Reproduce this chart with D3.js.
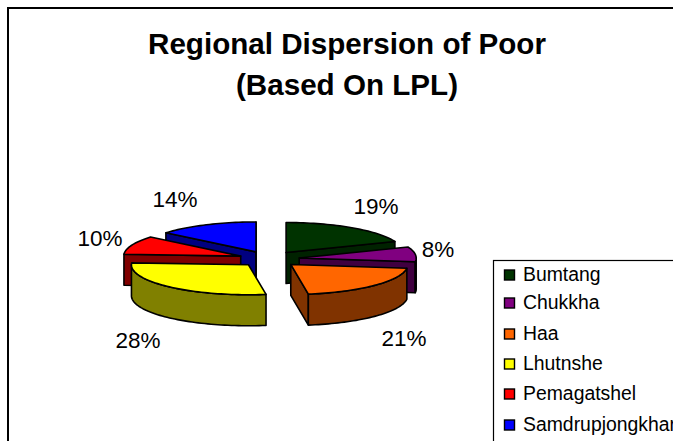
<!DOCTYPE html>
<html><head><meta charset="utf-8">
<script src="https://cdn.jsdelivr.net/npm/d3@7"></script>
<style>html,body{margin:0;padding:0;background:#fff;overflow:hidden}svg{display:block}text{font-family:"Liberation Sans",Arial,sans-serif;fill:#000}</style>
</head><body><script>
const categories = ["Bumtang","Chukkha","Haa","Lhutnshe","Pemagatshel","Samdrupjongkhar"];
const values = [19.0, 8.0, 20.6, 28.4, 10.0, 14.0];
const topColors = ["#003300","#800080","#FF6600","#FFFF00","#FF0000","#0000FF"];
const wallColors = ["#002200","#400040","#803300","#808000","#800000","#000080"];
const titleLines = ["Regional Dispersion of Poor","(Based On LPL)"];
const labelAnchors = [[376,206],[438,249],[404,338],[138,340],[100,238],[175,199]];
const legendY = [275,303,334,364,394,425];

const W=673,H=441, cx=269, cy=259, rx=117, ry=30, depth=31, explode=0.26;
const svg=d3.select("body").append("svg").attr("width",W).attr("height",H);
svg.append("rect").attr("x",8).attr("y",8).attr("width",W+20).attr("height",H+20).attr("fill","#fff").attr("stroke","#000").attr("stroke-width",2);
svg.selectAll("text.t").data(titleLines).join("text").attr("class","t")
  .attr("x",347).attr("y",(d,i)=>54+i*41).attr("text-anchor","middle")
  .attr("font-size",29.6).attr("font-weight","bold").text(d=>d);

const x=d3.scaleLinear().domain([-1,1]).range([cx-rx,cx+rx]);
const y=d3.scaleLinear().domain([-1,1]).range([cy-ry,cy+ry]);
const pie=d3.pie().sort(null)(values).map((d,i)=>({...d,i}));
const line=d3.line();
function arcPts(s,a0,a1,ox,oy,dz){
  const n=Math.max(2,Math.ceil((a1-a0)/0.03)),out=[];
  for(let k=0;k<=n;k++){const a=a0+(a1-a0)*k/n;out.push([x(Math.sin(a)+ox),y(-Math.cos(a)+oy)+dz]);}
  return out;
}
const order=[5,4,0,1,3,2];
const g=svg.append("g").attr("stroke","#000").attr("stroke-width",1.6).attr("stroke-linejoin","round");
order.forEach(i=>{
  const s=pie[i],mid=(s.startAngle+s.endAngle)/2;
  const ox=Math.sin(mid)*explode, oy=-Math.cos(mid)*explode;
  const a0=s.startAngle,a1=s.endAngle;
  const apex=[x(ox),y(oy)], apexB=[apex[0],apex[1]+depth];
  const P=(a,dz)=>[x(Math.sin(a)+ox),y(-Math.cos(a)+oy)+dz];
  if(Math.sin(a0)<0) g.append("path").attr("fill",wallColors[i]).attr("d",line([apex,P(a0,0),P(a0,depth),apexB])+"Z");
  if(Math.sin(a1)>0) g.append("path").attr("fill",wallColors[i]).attr("d",line([apex,P(a1,0),P(a1,depth),apexB])+"Z");
  const w0=Math.max(a0,Math.PI/2),w1=Math.min(a1,3*Math.PI/2);
  if(w1>w0) g.append("path").attr("fill",wallColors[i]).attr("d",line(arcPts(s,w0,w1,ox,oy,0).concat(arcPts(s,w0,w1,ox,oy,depth).reverse()))+"Z");
  g.append("path").attr("fill",topColors[i]).attr("d",line([apex].concat(arcPts(s,a0,a1,ox,oy,0)))+"Z");
});
svg.selectAll("text.p").data(values).join("text").attr("class","p")
  .attr("x",(d,i)=>labelAnchors[i][0]).attr("y",(d,i)=>labelAnchors[i][1]+8)
  .attr("text-anchor","middle").attr("font-size",22.5).text(d=>Math.round(d)+"%");

svg.append("rect").attr("x",493.5).attr("y",260.5).attr("width",W).attr("height",H).attr("fill","#fff").attr("stroke","#000").attr("stroke-width",1.2);
const lg=svg.selectAll("g.l").data(categories).join("g").attr("class","l");
lg.append("rect").attr("x",504.5).attr("y",(d,i)=>legendY[i]-5).attr("width",10).attr("height",10)
  .attr("fill",(d,i)=>topColors[i]).attr("stroke","#000").attr("stroke-width",1.4);
lg.append("text").attr("x",523).attr("y",(d,i)=>legendY[i]+6).attr("font-size",19.4).text(d=>d);
</script></body></html>
